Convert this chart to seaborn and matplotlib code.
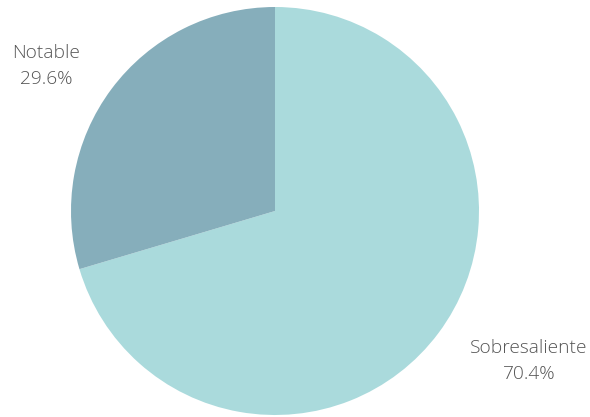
import matplotlib
matplotlib.use("Agg")
import matplotlib.pyplot as plt
import seaborn as sns

categories = ["Sobresaliente", "Notable"]
values = [70.4, 29.6]
colors = ["#AADADC", "#86AEBB"]

sns.set_theme(style="white")
plt.rcParams['font.family'] = ['Open Sans', 'DejaVu Sans']

fig = plt.figure(figsize=(5.9, 4.17), dpi=100)
ax = fig.add_axes([0, 0, 1, 1])

ax.pie(values, colors=sns.color_palette(colors), startangle=90, counterclock=False,
       center=(275, 206), radius=204, frame=True,
       wedgeprops=dict(linewidth=0))
ax.set_xlim(0, 590)
ax.set_ylim(0, 417)
ax.set_aspect('equal')
ax.axis('off')

label_pos = {"Notable": (46, 351), "Sobresaliente": (529, 56)}
for c, v in zip(categories, values):
    x, y = label_pos[c]
    ax.text(x, y, f"{c}\n{v:.1f}%", ha="center", va="center", fontsize=13.8,
            color="#555555", fontweight="light", linespacing=1.62)

fig.savefig("out.png", dpi=100)
